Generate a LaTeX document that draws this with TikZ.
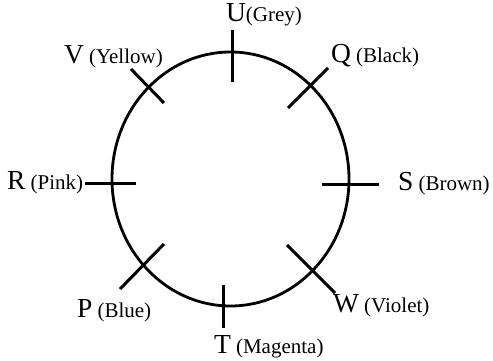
\documentclass[tikz,border=0pt]{standalone}
\usepackage{fontspec}
\setmainfont{Liberation Serif}
\newcommand{\BigL}[1]{{\fontsize{27.5}{28}\selectfont #1}}
\newcommand{\SmL}[1]{{\fontsize{21}{22}\selectfont #1}}
\begin{document}
\begin{tikzpicture}[x=1pt,y=-1pt,
  ring/.style={line width=2.8pt},
  tick/.style={line width=3pt},
  lbl/.style={anchor=base west,inner sep=0pt,outer sep=0pt}]
\useasboundingbox (0,0) rectangle (493,361);
% circle
\draw[ring] (230.5,179) ellipse [x radius=118.5, y radius=127];
% tick endpoints
\coordinate (u1) at (232.7,30);  \coordinate (u2) at (232.7,82);
\coordinate (q1) at (328,68);    \coordinate (q2) at (288,108);
\coordinate (v1) at (131,69);    \coordinate (v2) at (164,103);
\coordinate (r1) at (85,183);    \coordinate (r2) at (136,183);
\coordinate (s1) at (322,184);   \coordinate (s2) at (379,184);
\coordinate (p1) at (120,289);   \coordinate (p2) at (164,244);
\coordinate (t1) at (223,285);   \coordinate (t2) at (223,328);
\coordinate (w1) at (287,245);   \coordinate (w2) at (335,293);
\foreach \a in {u,q,v,r,s,p,t,w} \draw[tick] (\a1) -- (\a2);
% labels
\node[lbl] (lu) at (226,22)  {\BigL{U}\SmL{(Grey)}};
\node[lbl] (lv) at (64,64)   {\BigL{V}\SmL{\ (Yellow)}};
\node[lbl] (lq) at (331,63)  {\BigL{Q}\SmL{\ (Black)}};
\node[lbl] (lr) at (7,189)   {\BigL{R}\SmL{\ (Pink)}};
\node[lbl] (ls) at (398,190) {\BigL{S}\SmL{\ (Brown)}};
\node[lbl] (lp) at (77,317)  {\BigL{P}\SmL{\ (Blue)}};
\node[lbl] (lt) at (214,353) {\BigL{T}\SmL{\ (Magenta)}};
\node[lbl] (lw) at (333,312) {\BigL{W}\SmL{\ (Violet)}};
\end{tikzpicture}
\end{document}
